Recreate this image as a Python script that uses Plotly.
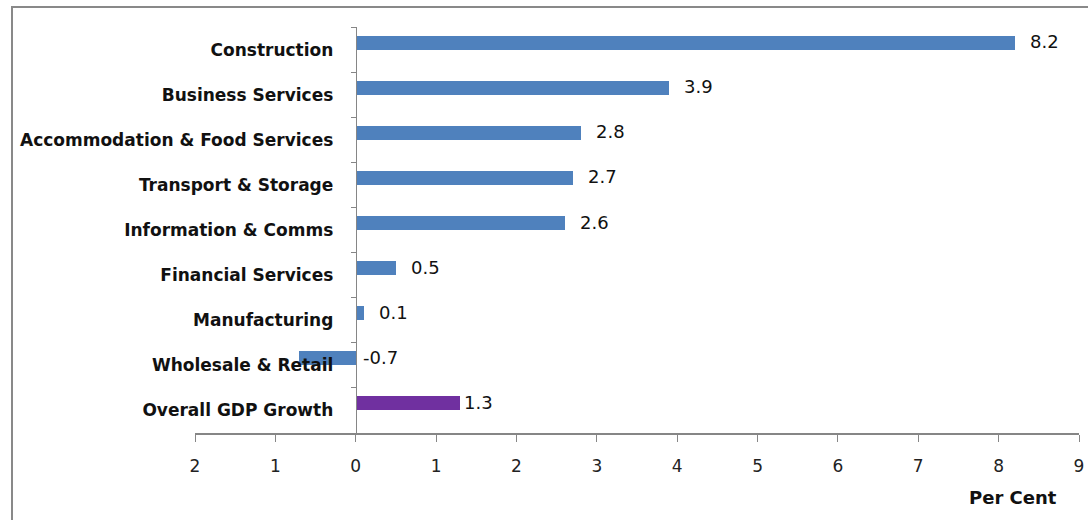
import plotly.graph_objects as go

# Data (bottom to top)
categories = ["Overall GDP Growth", "Wholesale & Retail", "Manufacturing", "Financial Services",
              "Information & Comms", "Transport & Storage", "Accommodation & Food Services",
              "Business Services", "Construction"]
values = [1.3, -0.7, 0.1, 0.5, 2.6, 2.7, 2.8, 3.9, 8.2]
highlight = ["Overall GDP Growth"]
x_tickvals = [-2, -1, 0, 1, 2, 3, 4, 5, 6, 7, 8, 9]
x_ticktext = ["2", "1", "0", "1", "2", "3", "4", "5", "6", "7", "8", "9"]
x_title = "Per Cent"

BLUE = "#4F81BD"
PURPLE = "#7030A0"
FONT = "DejaVu Sans"

W, H = 1088, 520
L, T = 195, 27
PW, PH = 884, 406
R, B = W - L - PW, H - T - PH
XMIN, XMAX = -2, 9

colors = [PURPLE if c in highlight else BLUE for c in categories]

fig = go.Figure()
fig.add_trace(go.Bar(
    y=categories, x=values, orientation="h",
    marker=dict(color=colors, line=dict(width=0)),
    width=0.31, offset=0.0,
    hoverinfo="x+y",
))

annotations = []
for c, v in zip(categories, values):
    if c in highlight:
        shift = 2
    elif v < 0:
        shift = 5
    else:
        shift = 13
    annotations.append(dict(
        x=max(v, 0), y=c, xref="x", yref="y", text=f"{v:.1f}",
        showarrow=False, xanchor="left", yanchor="middle", xshift=shift, yshift=8,
        font=dict(family=FONT, size=18, color="#111111"),
    ))

annotations.append(dict(
    x=(1013 - L) / PW, y=(T + PH - 497) / PH, xref="paper", yref="paper",
    text="<b>" + x_title + "</b>", showarrow=False, xanchor="center", yanchor="middle",
    font=dict(family=FONT, size=18, color="#111111"),
))

zero_pos = (0 - XMIN) / (XMAX - XMIN)

fig.update_layout(
    width=W, height=H,
    margin=dict(l=L, r=R, t=T, b=B, autoexpand=False),
    plot_bgcolor="white", paper_bgcolor="white",
    showlegend=False,
    bargap=0,
    xaxis=dict(
        range=[XMIN, XMAX], tickvals=x_tickvals, ticktext=x_ticktext,
        automargin=False,
        showgrid=False, zeroline=False, showline=True, linecolor="#868686", linewidth=2,
        ticks="outside", ticklen=7, tickcolor="#868686", tickwidth=1,
        ticklabelstandoff=10,
        tickfont=dict(family=FONT, size=17, color="#222222"),
    ),
    yaxis=dict(
        type="category", categoryorder="array", categoryarray=categories,
        anchor="free", position=zero_pos, automargin=False,
        showgrid=False, zeroline=False, showline=True, linecolor="#868686", linewidth=1,
        ticks="outside", ticklen=5, tickcolor="#868686", tickson="boundaries",
        ticklabelstandoff=19,
        tickfont=dict(family=FONT, size=17, color="#111111", weight="bold"),
    ),
    annotations=annotations,
    shapes=[dict(
        type="rect", xref="paper", yref="paper",
        x0=(12 - L) / PW, x1=1.2, y0=-0.5, y1=(T + PH - 7) / PH,
        line=dict(color="#898989", width=2), fillcolor="rgba(0,0,0,0)", layer="below",
    )],
)

fig.write_html(
    "out.html",
    config={"displayModeBar": False},
    post_script="document.body.style.margin='0';document.body.style.overflow='hidden';",
)
